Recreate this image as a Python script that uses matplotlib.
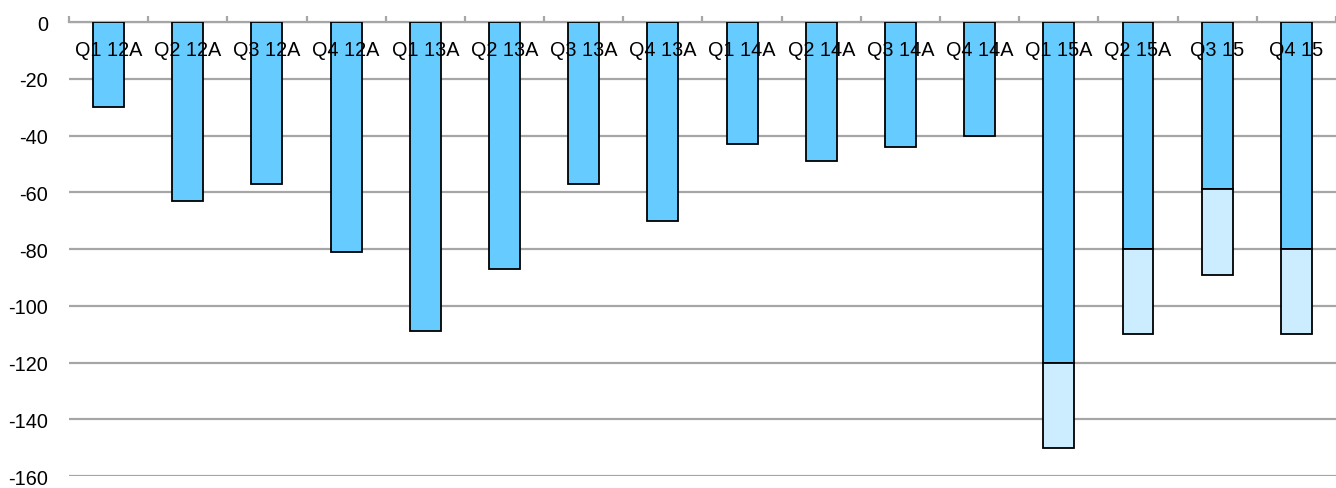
import numpy as np
import matplotlib.pyplot as plt

plt.rcParams['font.family'] = ['Liberation Sans', 'DejaVu Sans']

quarters = ['Q1 12A', 'Q2 12A', 'Q3 12A', 'Q4 12A', 'Q1 13A', 'Q2 13A', 'Q3 13A', 'Q4 13A',
            'Q1 14A', 'Q2 14A', 'Q3 14A', 'Q4 14A', 'Q1 15A', 'Q2 15A', 'Q3 15', 'Q4 15']
base = [-30, -63, -57, -81, -109, -87, -57, -70, -43, -49, -44, -40, -120, -80, -59, -80]
extra = [0, 0, 0, 0, 0, 0, 0, 0, 0, 0, 0, 0, -30, -30, -30, -30]
yticks = [0, -20, -40, -60, -80, -100, -120, -140, -160]

fig = plt.figure(figsize=(13.36, 4.89), dpi=100)
ax = fig.add_axes([0.0516, 0.0245, 0.9484, 0.9284])

x = np.arange(len(quarters))
ax.bar(x, base, 0.39, color='#66CCFF', edgecolor='black', linewidth=1.3, zorder=3)
ext_idx = [i for i, v in enumerate(extra) if v != 0]
ax.bar(x[ext_idx], [extra[i] for i in ext_idx], 0.39, bottom=[base[i] for i in ext_idx],
       color='#CCECFF', edgecolor='black', linewidth=1.3, zorder=3)

# quarter names sit just under the zero line
for i, q in enumerate(quarters):
    ax.text(i, -9.8, q, ha='center', va='center', fontsize=14.3, zorder=4)

ax.set_xlim(-0.5, len(quarters) - 0.5)
ax.set_ylim(-160, 0)
ax.set_yticks(yticks)
ax.set_yticklabels([str(v) for v in yticks], fontsize=14.3)
ax.yaxis.grid(True, color='#A6A6A6', linewidth=1.6, zorder=0)
ax.tick_params(axis='y', length=0, pad=15)

# category separators as small ticks above the zero line
ax.xaxis.tick_top()
ax.set_xticks(np.arange(len(quarters) + 1) - 0.5)
ax.set_xticklabels([])
ax.tick_params(axis='x', direction='out', length=4, width=1.6, color='#A6A6A6')
for s in ['left', 'right', 'bottom']:
    ax.spines[s].set_visible(False)
ax.spines['top'].set_color('#A6A6A6')
ax.spines['top'].set_linewidth(1.6)

fig.savefig('out.png', dpi=100)
